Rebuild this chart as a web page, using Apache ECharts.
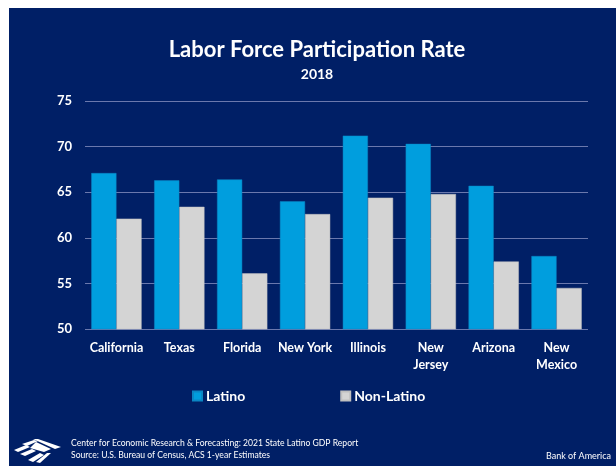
<!DOCTYPE html>
<html><head><meta charset="utf-8">
<style>html,body{margin:0;padding:0;background:#fff}#c{width:616px;height:466px}</style>
<script src="https://cdn.jsdelivr.net/npm/echarts@6/dist/echarts.min.js"></script>
</head><body><div id="c"></div>
<script>
var categories = ['California','Texas','Florida','New York','Illinois','New\nJersey','Arizona','New\nMexico'];
var latino = [67.1,66.3,66.4,64.0,71.2,70.3,65.7,58.0];
var nonLatino = [62.1,63.4,56.1,62.6,64.4,64.8,57.4,54.5];
var F = 'Lato, "Open Sans", sans-serif';
var chart = echarts.init(document.getElementById('c'), null, {renderer:'canvas'});
var navy = '#001f66';
function txt(x,y,t,size,weight,align){
  return {type:'text',x:x,y:y,silent:true,style:{text:t,fill:'#fff',font:(weight||'normal')+' '+size+'px '+F,textAlign:align||'left',textVerticalAlign:'middle'}};
}
function logoBand(p){return {type:'polygon',shape:{points:p},style:{fill:'#fff'},silent:true};}
chart.setOption({
  animation:false,
  backgroundColor:'#fff',
  textStyle:{fontFamily:F},
  grid:{left:85,right:28,top:101,height:228,containLabel:false},
  legend:{left:187,top:384,itemWidth:9,itemHeight:9,itemGap:95,icon:'rect',
    textStyle:{color:'#fff',fontFamily:F,fontWeight:'bold',fontSize:14,padding:[0,0,0,-1]},
    data:['Latino','Non-Latino']},
  xAxis:{type:'category',data:categories,
    axisLine:{show:false},axisTick:{show:false},
    axisLabel:{color:'#fff',fontFamily:F,fontWeight:'bold',fontSize:12.5,lineHeight:17,margin:10,interval:0}},
  yAxis:{type:'value',min:50,max:75,interval:5,
    axisLine:{show:false},axisTick:{show:false},
    axisLabel:{color:'#fff',fontFamily:F,fontWeight:'bold',fontSize:13,margin:13},
    splitLine:{lineStyle:{color:'#6a78ad',width:1}}},
  series:[
    {name:'Latino',type:'bar',data:latino,barGap:0,barCategoryGap:'20%',itemStyle:{color:'#009ede',borderColor:'#0a86c4',borderWidth:0.5}},
    {name:'Non-Latino',type:'bar',data:nonLatino,itemStyle:{color:'#d4d4d4',borderColor:'#c0c0c0',borderWidth:0.5}}
  ],
  graphic:[
    {type:'rect',z:-10,silent:true,shape:{x:9,y:8,width:607,height:458},style:{fill:navy}},
    txt(317,50,'Labor Force Participation Rate',22,'bold','center'),
    txt(317,74,'2018',14,'bold','center'),
    txt(71,443,'Center for Economic Research & Forecasting: 2021 State Latino GDP Report',8.6),
    txt(71,455,'Source: U.S. Bureau of Census, ACS 1-year Estimates',8.6),
    txt(611,456,'Bank of America',9,'normal','right'),
    logoBand([[14,450],[26,445],[30,447],[18,452]]),
    logoBand([[22,444],[34,440],[38,441],[27,446]]),
    logoBand([[33,439],[38,439],[61,447],[55,449]]),
    logoBand([[20,454],[32,449],[36,451],[25,456]]),
    logoBand([[30,448],[36,442],[51,449],[44,452]]),
    logoBand([[28,460],[40,453],[44,455],[33,462]]),
    logoBand([[36,462],[47,453],[51,453],[40,463]])
  ]
});
</script></body></html>
